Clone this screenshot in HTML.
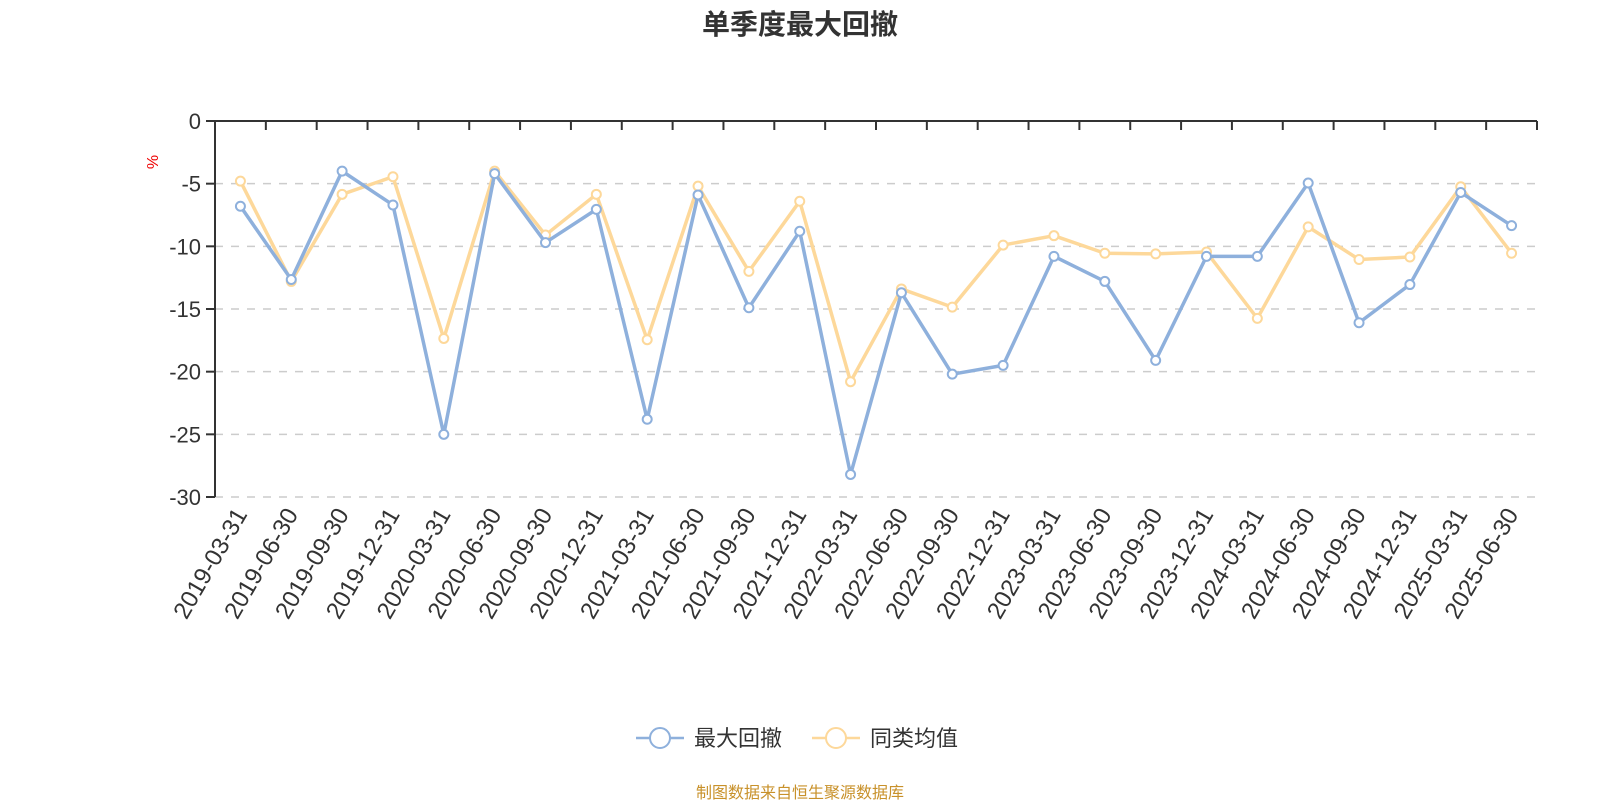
<!DOCTYPE html>
<html><head><meta charset="utf-8"><style>
body{margin:0;background:#fff;}
svg{display:block;font-family:"Liberation Sans","Noto Sans CJK SC",sans-serif;}
</style></head><body>
<svg id="chart" width="1600" height="800" viewBox="0 0 1600 800"></svg>
<script>
const categories=["2019-03-31","2019-06-30","2019-09-30","2019-12-31","2020-03-31","2020-06-30","2020-09-30","2020-12-31","2021-03-31","2021-06-30","2021-09-30","2021-12-31","2022-03-31","2022-06-30","2022-09-30","2022-12-31","2023-03-31","2023-06-30","2023-09-30","2023-12-31","2024-03-31","2024-06-30","2024-09-30","2024-12-31","2025-03-31","2025-06-30"];
const maxDrawdown=[-6.8,-12.65,-4.0,-6.7,-25.0,-4.2,-9.7,-7.05,-23.8,-5.9,-14.9,-8.8,-28.2,-13.7,-20.2,-19.5,-10.8,-12.8,-19.1,-10.8,-10.8,-4.95,-16.1,-13.05,-5.7,-8.35];
const peerAverage=[-4.8,-12.8,-5.85,-4.45,-17.35,-4.0,-9.1,-5.85,-17.45,-5.2,-12.0,-6.4,-20.8,-13.4,-14.85,-9.9,-9.15,-10.55,-10.6,-10.45,-15.75,-8.45,-11.05,-10.85,-5.25,-10.55];
const yTicks=[0,-5,-10,-15,-20,-25,-30];
const NS="http://www.w3.org/2000/svg";
const svg=document.getElementById('chart');
const L=215,R=1537,T=121,B=497;
const band=(R-L)/categories.length;
const xs=i=>L+band*(i+0.5);
const ys=v=>T+(0-v)/30*(B-T);
function mk(tag,attrs,parent){const e=document.createElementNS(NS,tag);for(const k in attrs)e.setAttribute(k,attrs[k]);(parent||svg).appendChild(e);return e;}
let t=mk('text',{x:800,y:34,'text-anchor':'middle','font-size':28,'font-weight':'bold',fill:'#333'});t.textContent='单季度最大回撤';

t=mk('text',{x:158,y:162,'text-anchor':'middle','font-size':16,fill:'#e00',transform:'rotate(-90 158 162)'});t.textContent='%';

yTicks.forEach(v=>{const y=ys(v);
 if(v!==0){const g=mk('line',{x1:L,x2:R,y1:y,y2:y,stroke:'#ccc','stroke-width':1.5,'stroke-dasharray':'8,8'});
 }
 mk('line',{x1:L-9,x2:L,y1:y,y2:y,stroke:'#333','stroke-width':2});
 const lb=mk('text',{x:L-14,y:y+8,'text-anchor':'end','font-size':22,fill:'#333'});lb.textContent=v;
 
});
let a=mk('line',{x1:L,x2:L,y1:T,y2:B,stroke:'#333','stroke-width':2});
a=mk('line',{x1:L,x2:R,y1:T,y2:T,stroke:'#333','stroke-width':2});
for(let i=0;i<=categories.length;i++){const x=L+band*i;mk('line',{x1:x,x2:x,y1:T,y2:T+9,stroke:'#333','stroke-width':2});}
categories.forEach((c,i)=>{const x=xs(i)+2,y=B+14;
 const lb=mk('text',{x:x,y:y,'text-anchor':'end','font-size':24,fill:'#333',transform:`rotate(-60 ${x} ${y})`,'dominant-baseline':'middle'});lb.textContent=c;
 });
function series(vals,color,name){
 const p=mk('polyline',{points:vals.map((v,i)=>xs(i)+','+ys(v)).join(' '),fill:'none',stroke:color,'stroke-width':3.5,'stroke-linejoin':'round'});
 
 vals.forEach((v,i)=>{const c=mk('circle',{cx:xs(i),cy:ys(v),r:4.5,fill:'#fff',stroke:color,'stroke-width':2});
 });
}
series(peerAverage,'#fdd89a','peer-average');
series(maxDrawdown,'#8eb0dc','max-drawdown');
function legend(x,color,label,name){const g=mk('g',{});
 
 mk('line',{x1:x,x2:x+48,y1:738,y2:738,stroke:color,'stroke-width':2.5},g);
 mk('circle',{cx:x+24,cy:738,r:10,fill:'#fff',stroke:color,'stroke-width':2},g);
 const tx=mk('text',{x:x+58,y:746,'font-size':22,fill:'#333'},g);tx.textContent=label;}
legend(636,'#8eb0dc','最大回撤','legend-max-drawdown');
legend(812,'#fdd89a','同类均值','legend-peer-average');
t=mk('text',{x:800,y:798,'text-anchor':'middle','font-size':16,fill:'#c8912a'});t.textContent='制图数据来自恒生聚源数据库';

</script>
</body></html>
